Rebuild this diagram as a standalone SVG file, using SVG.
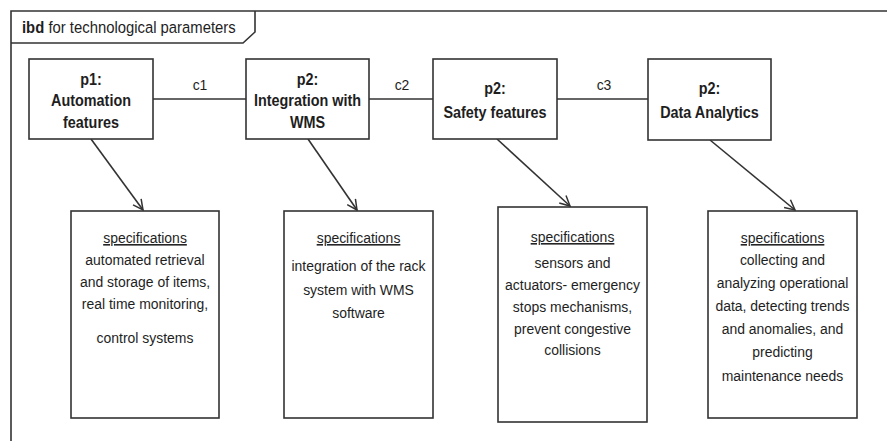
<svg xmlns="http://www.w3.org/2000/svg" width="887" height="441" viewBox="0 0 887 441">
<style>
.ln{stroke:#333;stroke-width:1.6;fill:none}
.box{fill:#fff;stroke:#333;stroke-width:1.6}
.t{font-family:"Liberation Sans",Arial,sans-serif;fill:#1e1e1e;text-anchor:middle}
.h{font-size:16px;font-weight:bold}
.s{font-size:15.5px}
.u{text-decoration:underline}
</style>
<defs>
<marker id="open" viewBox="0 0 12 12" refX="11" refY="6" markerWidth="12" markerHeight="12" markerUnits="userSpaceOnUse" orient="auto">
<path d="M1,1 L11,6 L1,11" fill="none" stroke="#333" stroke-width="1.5"/>
</marker>
</defs>
<rect width="887" height="441" fill="#fff"/>
<g id="frame">
<path class="ln" d="M11,441 L11,11 L887,11"/>
<path class="ln" d="M11,43 L243,43 L255,32 L255,11"/>
<text transform="translate(22 33) scale(0.9 1)" x="0" y="0" font-family="Liberation Sans,Arial,sans-serif" font-size="16.5" fill="#1e1e1e"><tspan font-weight="bold">ibd</tspan> for technological parameters</text>
</g>
<g id="connectors">
<line class="ln" x1="153" y1="99" x2="246" y2="99"/>
<line class="ln" x1="369" y1="99" x2="433" y2="99"/>
<line class="ln" x1="557" y1="99" x2="648" y2="99"/>
<text class="t s" transform="translate(200 0) scale(0.9 1)" x="0" y="90">c1</text>
<text class="t s" transform="translate(402 0) scale(0.9 1)" x="0" y="90">c2</text>
<text class="t s" transform="translate(604 0) scale(0.9 1)" x="0" y="90">c3</text>
<line class="ln" x1="91" y1="139" x2="143" y2="210" marker-end="url(#open)"/>
<line class="ln" x1="308" y1="139" x2="357" y2="210" marker-end="url(#open)"/>
<line class="ln" x1="497" y1="139" x2="570" y2="206" marker-end="url(#open)"/>
<line class="ln" x1="710" y1="140" x2="795" y2="210" marker-end="url(#open)"/>
</g>
<g id="p1">
<rect class="box" x="29" y="59" width="124" height="80"/>
<g transform="translate(91 0) scale(0.9 1)">
<text class="t h" x="0" y="85">p1:</text>
<text class="t h" x="0" y="106">Automation</text>
<text class="t h" x="0" y="128">features</text>
</g>
</g>
<g id="p2-wms">
<rect class="box" x="246" y="59" width="123" height="80"/>
<g transform="translate(307.5 0) scale(0.9 1)">
<text class="t h" x="0" y="85">p2:</text>
<text class="t h" x="0" y="106">Integration with</text>
<text class="t h" x="0" y="128">WMS</text>
</g>
</g>
<g id="p2-safety">
<rect class="box" x="433" y="59" width="124" height="80"/>
<g transform="translate(495 0) scale(0.9 1)">
<text class="t h" x="0" y="94">p2:</text>
<text class="t h" x="0" y="118">Safety features</text>
</g>
</g>
<g id="p2-analytics">
<rect class="box" x="648" y="59" width="123" height="81"/>
<g transform="translate(709.5 0) scale(0.9 1)">
<text class="t h" x="0" y="94">p2:</text>
<text class="t h" x="0" y="118">Data Analytics</text>
</g>
</g>
<g id="spec1">
<rect class="box" x="71" y="211" width="148" height="207"/>
<g transform="translate(145 0) scale(0.9 1)">
<text class="t s u" x="0" y="243">specifications</text>
<text class="t s" x="0" y="265">automated retrieval</text>
<text class="t s" x="0" y="287">and storage of items,</text>
<text class="t s" x="0" y="309">real time monitoring,</text>
<text class="t s" x="0" y="343">control systems</text>
</g>
</g>
<g id="spec2">
<rect class="box" x="284" y="211" width="149" height="207"/>
<g transform="translate(358.5 0) scale(0.9 1)">
<text class="t s u" x="0" y="243">specifications</text>
<text class="t s" x="0" y="271">integration of the rack</text>
<text class="t s" x="0" y="295">system with WMS</text>
<text class="t s" x="0" y="318">software</text>
</g>
</g>
<g id="spec3">
<rect class="box" x="498" y="207" width="149" height="215"/>
<g transform="translate(572.5 0) scale(0.9 1)">
<text class="t s u" x="0" y="242">specifications</text>
<text class="t s" x="0" y="268">sensors and</text>
<text class="t s" x="0" y="290">actuators- emergency</text>
<text class="t s" x="0" y="312">stops mechanisms,</text>
<text class="t s" x="0" y="334">prevent congestive</text>
<text class="t s" x="0" y="355">collisions</text>
</g>
</g>
<g id="spec4">
<rect class="box" x="708" y="211" width="149" height="207"/>
<g transform="translate(782.5 0) scale(0.9 1)">
<text class="t s u" x="0" y="243">specifications</text>
<text class="t s" x="0" y="265">collecting and</text>
<text class="t s" x="0" y="288">analyzing operational</text>
<text class="t s" x="0" y="311">data, detecting trends</text>
<text class="t s" x="0" y="334">and anomalies, and</text>
<text class="t s" x="0" y="357">predicting</text>
<text class="t s" x="0" y="381">maintenance needs</text>
</g>
</g>
</svg>
